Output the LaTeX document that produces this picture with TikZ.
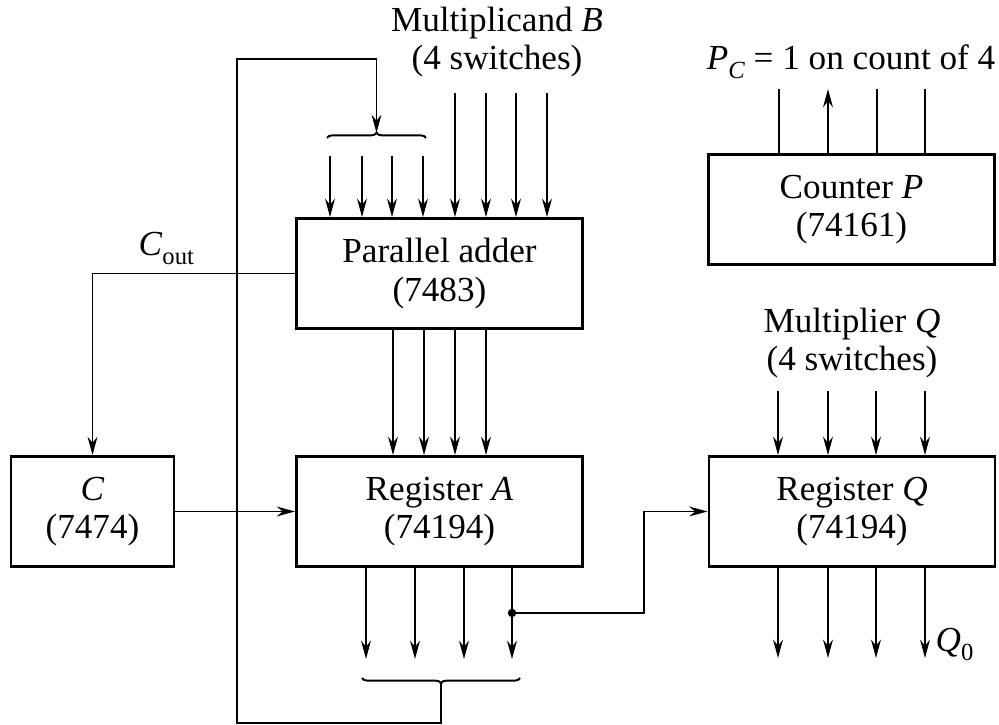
\documentclass[tikz,border=0pt]{standalone}
\usepackage{fontspec}
\setmainfont{Liberation Serif}
\usetikzlibrary{arrows.meta,decorations.pathreplacing}

\newcommand{\lowsub}[1]{\raisebox{-0.5ex}{\fontsize{7}{7}\selectfont #1}}

\begin{document}
\begin{tikzpicture}[x=0.01cm, y=-0.01cm,
  every node/.style={font=\fontsize{10}{11}\selectfont},
  block/.style={draw, line width=0.8pt, minimum width=2.86cm, minimum height=1.10cm, inner sep=0pt, align=center},
  wire/.style={line width=0.55pt},
  sig/.style={wire, -{Stealth[length=5.2pt,width=2.8pt,inset=1.7pt]}},
  curly/.style={wire, decorate, decoration={brace, amplitude=1.5pt}}]

\useasboundingbox (0,0) rectangle (999,725);

% Blocks
\node[block] (adder) at (439.5,273.5) {Parallel adder\\(7483)};
\node[block] (rega) at (439.5,511.5) {Register \textit{A}\\(74194)};
\node[block, minimum width=1.63cm] (cff) at (92.5,511.5) {\textit{C}\\(7474)};
\node[block] (regq) at (852,511.5) {Register \textit{Q}\\(74194)};
\node[block] (cntp) at (851.5,209.5) {Counter \textit{P}\\(74161)};

% Labels
\node[align=center] (mcand) at (497,42) {Multiplicand \textit{B}\\(4 switches)};
\node[align=center] (mplier) at (852,343) {Multiplier \textit{Q}\\(4 switches)};
\node[anchor=base] (pcount) at (851,70) {\textit{P}\lowsub{\textit{C}} = 1 on count of 4};
\node[anchor=base west, inner sep=0pt] (cout) at (138,256) {\textit{C}\lowsub{out}};
\node[anchor=base west, inner sep=0pt] (qzero) at (935,652) {\textit{Q}\lowsub{0}};

% Multiplicand B into adder
\foreach \x [count=\i] in {455,486,516,547} {
    \coordinate (bin\i) at (\x,93);
    \draw[sig] (bin\i) -- (bin\i |- adder.north);
}

% Register A fed back into adder
\foreach \x [count=\i] in {330,362,392,423} {
    \coordinate (fin\i) at (\x,156);
    \draw[sig] (fin\i) -- (fin\i |- adder.north);
}
\draw[curly] (327,138) -- (426,138);

% Sum into register A
\foreach \x [count=\i] in {393,424,455,486} {
    \coordinate (sum\i) at (\x,0);
    \draw[sig] (adder.south -| sum\i) -- (rega.north -| sum\i);
}

% Register A outputs
\foreach \x [count=\i] in {366,415,464,512} {
    \coordinate (aout\i) at (\x,659);
    \draw[sig] (rega.south -| aout\i) -- (aout\i);
}
\draw[curly] (520,678) -- (362,678);

% Feedback loop
\coordinate (abrace) at (441,683);
\coordinate (fbbl) at (237,723);
\coordinate (fbtl) at (237,59);
\coordinate (bbrace) at (376.5,133);
\draw[sig] (abrace) |- (fbbl) -- (fbtl) -| (bbrace);

% Carry and C flip-flop
\draw[sig] (adder.west) -| (cff.north);
\draw[sig] (cff.east) -- (rega.west);

% Serial shift A -> Q
\coordinate (tap) at (512,613);
\coordinate (jog) at (644,613);
\fill (tap) circle (1.2pt);
\draw[sig] (tap) -- (jog) |- (regq.west);

% Multiplier Q in and out
\foreach \x [count=\i] in {778,828,876,925} {
    \coordinate (qin\i) at (\x,391);
    \coordinate (qout\i) at (\x,658);
    \draw[sig] (qin\i) -- (qin\i |- regq.north);
    \draw[sig] (regq.south -| qout\i) -- (qout\i);
}

% Counter outputs
\foreach \x [count=\i] in {779,828,877,925} {
    \coordinate (pout\i) at (\x,89);
    \ifnum\i=2
        \draw[sig] (cntp.north -| pout\i) -- (pout\i);
    \else
        \draw[wire] (cntp.north -| pout\i) -- (pout\i);
    \fi
}

\end{tikzpicture}
\end{document}
